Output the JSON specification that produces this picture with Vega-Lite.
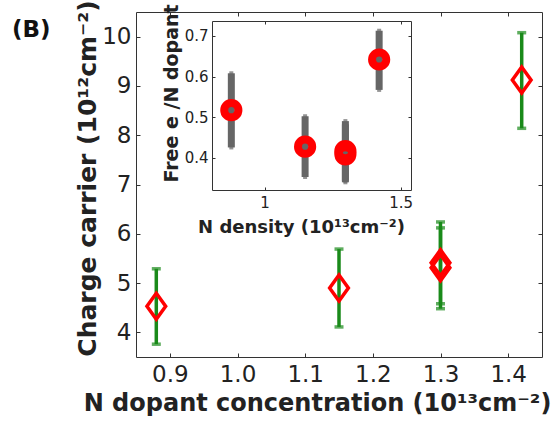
{
  "$schema": "https://vega.github.io/schema/vega-lite/v6.json",
  "width": 406,
  "height": 345,
  "autosize": {"type": "none"},
  "padding": {"left": 136, "top": 12, "right": 12, "bottom": 68},
  "background": "white",
  "config": {
    "view": {"stroke": "#333333", "strokeWidth": 1},
    "axis": {"grid": false, "labelFont": "DejaVu Sans", "titleFont": "DejaVu Sans", "labelColor": "#222222", "titleColor": "#222222", "tickColor": "#333333", "domainColor": "#333333"}
  },
  "title": {"text": "(B)", "anchor": "start", "frame": "group", "orient": "top", "offset": 0, "baseline": "top", "dx": -124, "dy": 42, "font": "DejaVu Sans", "fontSize": 23, "fontWeight": "bold", "color": "#111111"},
  "datasets": {
    "main": [
      {"n": 0.88, "c": 4.53, "lo": 3.76, "hi": 5.29},
      {"n": 1.15, "c": 4.90, "lo": 4.11, "hi": 5.69},
      {"n": 1.30, "c": 5.41, "lo": 4.58, "hi": 6.24},
      {"n": 1.30, "c": 5.31, "lo": 4.48, "hi": 6.12},
      {"n": 1.42, "c": 9.12, "lo": 8.14, "hi": 10.08}
    ],
    "inset": [
      {"n": 0.878, "r": 0.517, "lo": 0.425, "hi": 0.608},
      {"n": 1.149, "r": 0.427, "lo": 0.352, "hi": 0.502},
      {"n": 1.297, "r": 0.416, "lo": 0.343, "hi": 0.490},
      {"n": 1.297, "r": 0.408, "lo": 0.339, "hi": 0.482},
      {"n": 1.421, "r": 0.642, "lo": 0.567, "hi": 0.713}
    ]
  },
  "layer": [
    {
      "data": {"name": "main"},
      "layer": [
        {
          "mark": {"type": "rule", "color": "#1a8a1a", "strokeWidth": 3.5},
          "encoding": {
            "x": {"field": "n", "type": "quantitative", "scale": {"domain": [0.85, 1.45], "nice": false, "zero": false},
              "axis": {"orient": "bottom", "values": [0.9, 1.0, 1.1, 1.2, 1.3, 1.4], "format": ".1f", "domain": false, "tickSize": -4, "labelPadding": 10, "labelFontSize": 23, "title": "N dopant concentration (10¹³cm⁻²)", "titleFontSize": 24, "titleFontWeight": "bold", "titlePadding": 5, "titleX": 181}},
            "y": {"field": "lo", "type": "quantitative", "scale": {"domain": [3.5, 10.5], "nice": false, "zero": false},
              "axis": {"orient": "left", "values": [4, 5, 6, 7, 8, 9, 10], "domain": false, "tickSize": -4, "labelPadding": 9, "labelFontSize": 23, "title": "Charge carrier (10¹²cm⁻²)", "titleFontSize": 25, "titleFontWeight": "bold", "titlePadding": 1, "titleY": 166}},
            "y2": {"field": "hi"}
          }
        },
        {
          "mark": {"type": "tick", "color": "#1a8a1a", "thickness": 3.5, "size": 9, "orient": "horizontal"},
          "encoding": {
            "x": {"field": "n", "type": "quantitative", "axis": {"orient": "top", "values": [0.9, 1.0, 1.1, 1.2, 1.3, 1.4], "domain": false, "labels": false, "tickSize": -4, "title": null}},
            "y": {"field": "lo", "type": "quantitative", "axis": {"orient": "right", "values": [4, 5, 6, 7, 8, 9, 10], "domain": false, "labels": false, "tickSize": -4, "title": null}}
          }
        },
        {
          "mark": {"type": "tick", "color": "#1a8a1a", "thickness": 3.5, "size": 9, "orient": "horizontal"},
          "encoding": {
            "x": {"field": "n", "type": "quantitative", "axis": null},
            "y": {"field": "hi", "type": "quantitative", "axis": null}
          }
        },
        {
          "mark": {"type": "point", "shape": "M0,-1L0.72,0L0,1L-0.72,0Z", "size": 676, "filled": false, "color": "#ff0000", "strokeWidth": 3.5, "opacity": 1},
          "encoding": {
            "x": {"field": "n", "type": "quantitative", "axis": null},
            "y": {"field": "c", "type": "quantitative", "axis": null}
          }
        }
      ],
      "resolve": {"axis": {"x": "independent", "y": "independent"}}
    },
    {
      "data": {"name": "inset"},
      "layer": [
        {
          "mark": {"type": "rule", "color": "#666666", "strokeWidth": 7},
          "encoding": {
            "x": {"field": "n", "type": "quantitative", "scale": {"domain": [0.807, 1.538], "range": [76, 275], "nice": false, "zero": false},
              "axis": {"orient": "bottom", "offset": -167, "values": [1, 1.5], "format": "~g", "domain": true, "tickSize": -3, "labelPadding": 8, "labelFontSize": 15, "title": "N density (10¹³cm⁻²)", "titleFontSize": 18, "titleFontWeight": "bold", "titlePadding": 8, "titleX": 165}},
            "y": {"field": "lo", "type": "quantitative", "scale": {"domain": [0.32, 0.737], "range": [178, 9], "nice": false, "zero": false},
              "axis": {"orient": "left", "offset": -76, "values": [0.4, 0.5, 0.6, 0.7], "format": ".1f", "domain": true, "tickSize": -3, "labelPadding": 7, "labelFontSize": 15, "title": "Free e /N dopant", "titleFontSize": 19, "titleFontWeight": "bold", "titlePadding": 3, "titleY": 81}},
            "y2": {"field": "hi"}
          }
        },
        {
          "mark": {"type": "tick", "color": "#666666", "thickness": 4, "size": 4, "orient": "horizontal"},
          "encoding": {
            "x": {"field": "n", "type": "quantitative", "axis": {"orient": "top", "offset": -9, "values": [1, 1.5], "domain": true, "labels": false, "tickSize": -3, "title": null}},
            "y": {"field": "lo", "type": "quantitative", "axis": {"orient": "right", "offset": -131, "values": [0.4, 0.5, 0.6, 0.7], "domain": true, "labels": false, "tickSize": -3, "title": null}}
          }
        },
        {
          "mark": {"type": "tick", "color": "#666666", "thickness": 4, "size": 4, "orient": "horizontal"},
          "encoding": {
            "x": {"field": "n", "type": "quantitative", "axis": null},
            "y": {"field": "hi", "type": "quantitative", "axis": null}
          }
        },
        {
          "mark": {"type": "point", "shape": "circle", "size": 201, "filled": false, "color": "#ff0000", "strokeWidth": 8, "opacity": 1},
          "encoding": {
            "x": {"field": "n", "type": "quantitative", "axis": null},
            "y": {"field": "r", "type": "quantitative", "axis": null}
          }
        }
      ],
      "resolve": {"axis": {"x": "independent", "y": "independent"}}
    }
  ],
  "resolve": {"scale": {"x": "independent", "y": "independent"}}
}
